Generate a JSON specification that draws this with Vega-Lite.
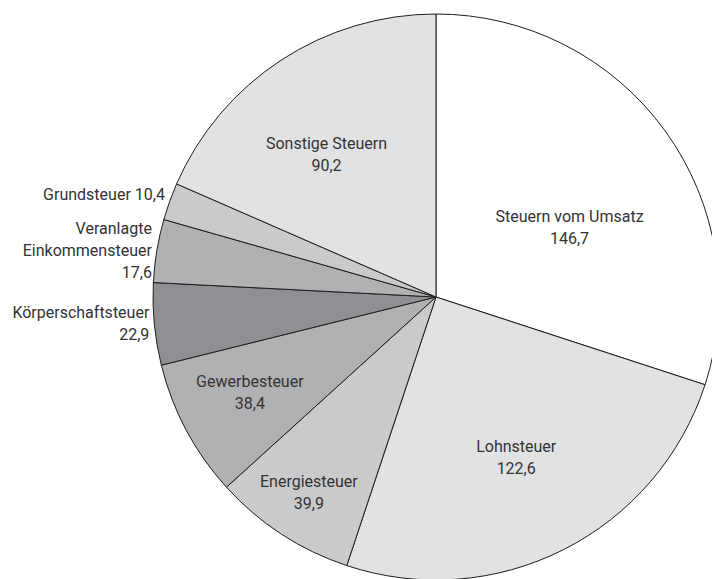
{
  "$schema": "https://vega.github.io/schema/vega-lite/v6.json",
  "width": 712,
  "height": 579,
  "autosize": {"type": "none"},
  "padding": 0,
  "background": "#ffffff",
  "config": {"view": {"stroke": null}, "text": {"font": "Roboto", "fontSize": 16, "lineHeight": 22, "color": "#333333"}},
  "data": {"values": [
    {"nr": 1, "Steuer": "Steuern vom Umsatz", "Mrd": 146.7, "label": "Steuern vom Umsatz\n146,7"},
    {"nr": 2, "Steuer": "Lohnsteuer", "Mrd": 122.6, "label": "Lohnsteuer\n122,6"},
    {"nr": 3, "Steuer": "Energiesteuer", "Mrd": 39.9, "label": "Energiesteuer\n39,9"},
    {"nr": 4, "Steuer": "Gewerbesteuer", "Mrd": 38.4, "label": "Gewerbesteuer\n38,4"},
    {"nr": 5, "Steuer": "Körperschaftsteuer", "Mrd": 22.9, "label": "Körperschaftsteuer\n22,9"},
    {"nr": 6, "Steuer": "Veranlagte Einkommensteuer", "Mrd": 17.6, "label": "Veranlagte\nEinkommensteuer\n17,6"},
    {"nr": 7, "Steuer": "Grundsteuer", "Mrd": 10.4, "label": "Grundsteuer 10,4"},
    {"nr": 8, "Steuer": "Sonstige Steuern", "Mrd": 90.2, "label": "Sonstige Steuern\n90,2"}
  ]},
  "encoding": {
    "theta": {"field": "Mrd", "type": "quantitative", "stack": true},
    "order": {"field": "nr", "type": "quantitative"}
  },
  "layer": [
    {
      "mark": {"type": "arc", "radius": 283, "x": 436, "y": 297, "stroke": "#1e1e1e", "strokeWidth": 1},
      "encoding": {
        "color": {"field": "Steuer", "type": "nominal", "legend": null,
          "scale": {"domain": ["Steuern vom Umsatz", "Lohnsteuer", "Energiesteuer", "Gewerbesteuer", "Körperschaftsteuer", "Veranlagte Einkommensteuer", "Grundsteuer", "Sonstige Steuern"],
                    "range": ["#ffffff", "#e1e2e4", "#c9cacc", "#b0b1b3", "#8f9093", "#b0b1b3", "#c9cacc", "#e1e2e4"]}}
      }
    },
    {
      "mark": {"type": "text", "radius": 288, "x": 436, "y": 297, "align": "right", "baseline": "middle", "dy": -5, "lineBreak": "\n"},
      "encoding": {"text": {"condition": {"test": "datum.nr == 7", "field": "label"}, "value": ""}}
    },
    {
      "mark": {"type": "text", "radius": 288, "x": 436, "y": 297, "align": "right", "baseline": "middle", "dy": -12, "lineBreak": "\n"},
      "encoding": {"text": {"condition": {"test": "datum.nr == 5", "field": "label"}, "value": ""}}
    },
    {
      "mark": {"type": "text", "radius": 288, "x": 436, "y": 297, "align": "right", "baseline": "middle", "dy": -21, "lineBreak": "\n"},
      "encoding": {"text": {"condition": {"test": "datum.nr == 6", "field": "label"}, "value": ""}}
    },
    {
      "mark": {"type": "text", "radius": 178, "x": 436, "y": 297, "align": "center", "baseline": "middle", "dy": -9, "lineBreak": "\n"},
      "encoding": {"text": {"condition": {"test": "datum.nr == 2", "field": "label"}, "value": ""}}
    },
    {
      "mark": {"type": "text", "radius": 178, "x": 436, "y": 297, "align": "center", "baseline": "middle", "dx": -12, "dy": -4, "lineBreak": "\n"},
      "encoding": {"text": {"condition": {"test": "datum.nr == 8", "field": "label"}, "value": ""}}
    },
    {
      "mark": {"type": "text", "radius": 233, "x": 436, "y": 297, "align": "center", "baseline": "middle", "dy": -10, "lineBreak": "\n"},
      "encoding": {"text": {"condition": {"test": "datum.nr == 3", "field": "label"}, "value": ""}}
    },
    {
      "mark": {"type": "text", "radius": 211, "x": 436, "y": 297, "align": "center", "baseline": "middle", "dy": -14, "lineBreak": "\n"},
      "encoding": {"text": {"condition": {"test": "datum.nr == 4", "field": "label"}, "value": ""}}
    },
    {
      "mark": {"type": "text", "radius": 165, "x": 436, "y": 297, "align": "center", "baseline": "middle", "dy": 17, "lineBreak": "\n"},
      "encoding": {"text": {"condition": {"test": "datum.nr == 1", "field": "label"}, "value": ""}}
    }
  ]
}
